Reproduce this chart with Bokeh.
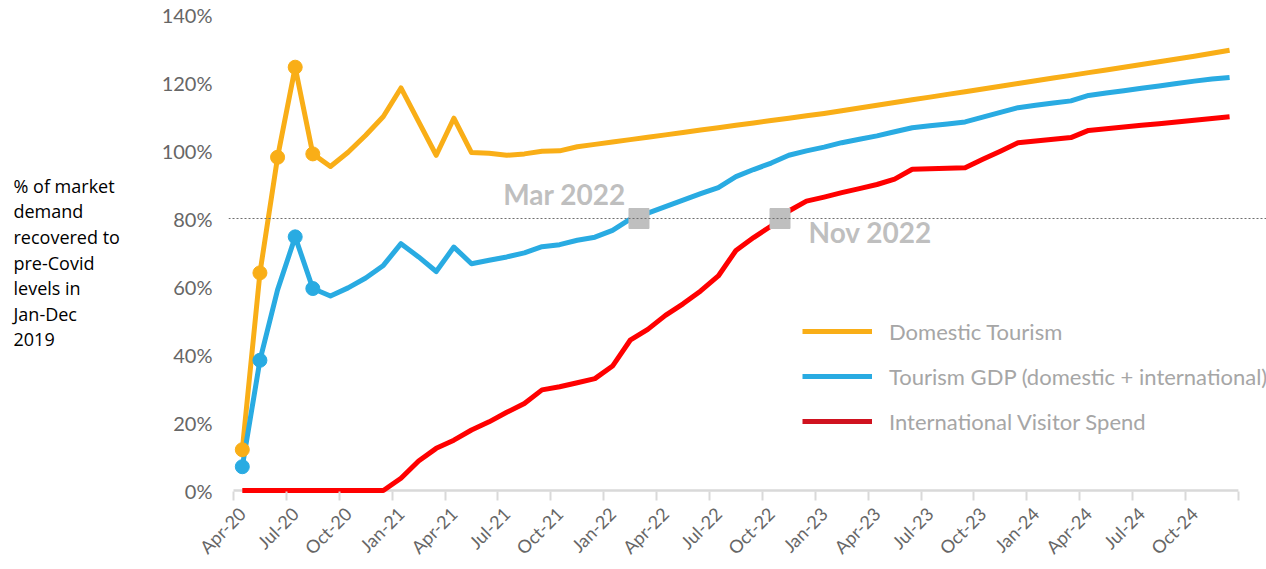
import math
from bokeh.plotting import figure
from bokeh.layouts import row
from bokeh.models import (Range1d, FixedTicker, NumeralTickFormatter, Span, Label,
                          Legend, LegendItem)
from bokeh.core.properties import value
from bokeh.embed import file_html
from bokeh.resources import INLINE

# ---------------- data ----------------
tick_labels = ["Apr-20", "Jul-20", "Oct-20", "Jan-21", "Apr-21", "Jul-21", "Oct-21",
               "Jan-22", "Apr-22", "Jul-22", "Oct-22", "Jan-23", "Apr-23", "Jul-23",
               "Oct-23", "Jan-24", "Apr-24", "Jul-24", "Oct-24"]
n_months = 57  # Apr-20 .. Dec-24

domestic = [0.12, 0.64, 0.98, 1.245, 0.99, 0.953, 0.995, 1.045, 1.10, 1.184,
            1.085, 0.986, 1.095, 0.994, 0.992, 0.986, 0.99, 0.998, 0.999, 1.011,
            1.018, 1.025, 1.032, 1.039, 1.046, 1.053, 1.060, 1.067, 1.074, 1.081,
            1.088, 1.095, 1.102, 1.109, 1.117, 1.125, 1.133, 1.141, 1.149, 1.157,
            1.165, 1.173, 1.181, 1.189, 1.197, 1.205, 1.213, 1.221, 1.229, 1.237,
            1.245, 1.253, 1.261, 1.269, 1.277, 1.286, 1.295]

gdp = [0.07, 0.383, 0.59, 0.746, 0.594, 0.572, 0.596, 0.625, 0.662, 0.726,
       0.687, 0.644, 0.716, 0.667, 0.677, 0.687, 0.699, 0.717, 0.723, 0.736,
       0.745, 0.765, 0.798, 0.816, 0.835, 0.854, 0.873, 0.891, 0.923, 0.944,
       0.963, 0.986, 0.999, 1.01, 1.023, 1.033, 1.043, 1.055, 1.067, 1.073,
       1.078, 1.084, 1.098, 1.112, 1.126, 1.133, 1.140, 1.146, 1.162, 1.169,
       1.176, 1.183, 1.190, 1.197, 1.204, 1.210, 1.215]

international = [0, 0, 0, 0, 0, 0, 0, 0, 0, 0.036,
                 0.087, 0.124, 0.148, 0.178, 0.202, 0.23, 0.256, 0.296, 0.305, 0.317,
                 0.329, 0.366, 0.442, 0.474, 0.515, 0.549, 0.587, 0.631, 0.706, 0.744,
                 0.778, 0.822, 0.851, 0.863, 0.876, 0.888, 0.900, 0.916, 0.945, 0.946,
                 0.948, 0.949, 0.974, 0.998, 1.023, 1.028, 1.033, 1.038, 1.059, 1.064,
                 1.069, 1.074, 1.079, 1.084, 1.089, 1.094, 1.099]

domestic_marker_idx = [0, 1, 2, 3, 4]
gdp_marker_idx = [0, 1, 3, 4]

milestone_x = [22.5, 30.5]          # Mar 2022 (GDP) and Nov 2022 (international) crossings
milestone_y = [0.8, 0.8]
milestone_text = ["Mar 2022", "Nov 2022"]
threshold = 0.8

series_names = ["Domestic Tourism", "Tourism GDP (domestic + international)",
                "International Visitor Spend"]
y_title_lines = ["% of market", "demand", "recovered to", "pre-Covid",
                 "levels in", "Jan-Dec", "2019"]

# ---------------- style ----------------
ORANGE = "#F9AE17"
BLUE = "#29ABE2"
RED = "#FF0000"
RED_LEG = "#D0121F"
FONT = "Lato"
TOP, BOTTOM = 14, 76          # borders (px) shared by both panels
H = 569

x = list(range(n_months))

# ---- left panel holding the horizontal y-axis title (data units = screen px) ----
t = figure(width=150, height=H, output_backend="svg", toolbar_location=None,
           x_range=Range1d(0, 150), y_range=Range1d(H - BOTTOM, TOP),
           min_border_left=0, min_border_right=0,
           min_border_top=TOP, min_border_bottom=BOTTOM)
t.axis.visible = False
t.grid.visible = False
t.outline_line_color = None
line_pitch = 25.7
t.text(x=[13] * len(y_title_lines),
       y=[185 + k * line_pitch for k in range(len(y_title_lines))],
       text=y_title_lines, text_baseline="middle", text_align="left",
       text_font=value("Open Sans"), text_font_size=value("18px"), text_color="black")

# ---- main chart ----
p = figure(width=1116, height=H, output_backend="svg", toolbar_location=None,
           x_range=Range1d(-0.783, 58.094), y_range=Range1d(-0.0088, 1.4),
           min_border_left=78, min_border_right=0,
           min_border_top=TOP, min_border_bottom=BOTTOM)
p.outline_line_color = None
p.xgrid.grid_line_color = None
p.ygrid.grid_line_color = None
p.background_fill_color = "white"

# threshold dotted line
p.add_layout(Span(location=threshold, dimension="width", line_color="#6f6f6f",
                  line_width=1, line_dash="2 2"))

# axis baseline (category extent)
p.line(x=[-0.5, n_months - 0.5], y=[0, 0], line_color="#d9d9d9", line_width=2.5)

p.line(x=x, y=domestic, line_color=ORANGE, line_width=5, line_join="round")
p.line(x=x, y=gdp, line_color=BLUE, line_width=5, line_join="round")
p.line(x=x, y=international, line_color=RED, line_width=5, line_join="round")

p.scatter(x=[x[i] for i in domestic_marker_idx], y=[domestic[i] for i in domestic_marker_idx],
          marker="circle", size=14, fill_color=ORANGE, line_color=ORANGE)
p.scatter(x=[x[i] for i in gdp_marker_idx], y=[gdp[i] for i in gdp_marker_idx],
          marker="circle", size=14, fill_color=BLUE, line_color=BLUE)

p.scatter(x=milestone_x, y=milestone_y, marker="square", size=20,
          fill_color="#BFBFBF", line_color="#BFBFBF")

# milestone labels
p.add_layout(Label(x=14.8, y=0.872, text=milestone_text[0], text_font=FONT,
                   text_font_style="bold", text_font_size="28px", text_color="#BFBFBF",
                   text_baseline="alphabetic", text_align="left"))
p.add_layout(Label(x=32.12, y=0.761, text=milestone_text[1], text_font=FONT,
                   text_font_style="bold", text_font_size="28px", text_color="#BFBFBF",
                   text_baseline="alphabetic", text_align="left"))

# legend (off-range glyphs so the legend red can differ from the line red)
l1 = p.line(x=[-50, -49], y=[-5, -5], line_color=ORANGE, line_width=5)
l2 = p.line(x=[-50, -49], y=[-5, -5], line_color=BLUE, line_width=5)
l3 = p.line(x=[-50, -49], y=[-5, -5], line_color=RED_LEG, line_width=5)
legend = Legend(items=[LegendItem(label=series_names[0], renderers=[l1]),
                       LegendItem(label=series_names[1], renderers=[l2]),
                       LegendItem(label=series_names[2], renderers=[l3])],
                location=(574, 58), orientation="vertical",
                glyph_width=70, glyph_height=28, label_height=28, spacing=17,
                label_standoff=17, padding=0, margin=0,
                border_line_color=None, background_fill_alpha=0,
                label_text_font=FONT, label_text_font_size="22px",
                label_text_color="#A6A6A6")
p.add_layout(legend, "center")

# x axis
xa = p.xaxis[0]
xa.ticker = FixedTicker(ticks=[3 * k for k in range(len(tick_labels))],
                        minor_ticks=[k - 0.5 for k in range(0, n_months + 1, 3)])
xa.major_label_overrides = {3 * k: lab for k, lab in enumerate(tick_labels)}
xa.major_label_orientation = math.pi / 4
xa.major_tick_line_color = None
xa.major_tick_out = 0
xa.major_tick_in = 0
xa.minor_tick_line_color = "#d9d9d9"
xa.minor_tick_line_width = 2
xa.minor_tick_out = 7
xa.minor_tick_in = 2
xa.axis_line_color = None
xa.major_label_standoff = 10
xa.major_label_text_font = FONT
xa.major_label_text_font_size = "18px"
xa.major_label_text_color = "#666666"

# y axis
ya = p.yaxis[0]
ya.ticker = FixedTicker(ticks=[0, 0.2, 0.4, 0.6, 0.8, 1.0, 1.2, 1.4])
ya.formatter = NumeralTickFormatter(format="0%")
ya.axis_line_color = None
ya.major_tick_line_color = None
ya.major_tick_out = 0
ya.major_tick_in = 0
ya.minor_tick_line_color = None
ya.major_label_standoff = 16
ya.major_label_text_font = FONT
ya.major_label_text_font_size = "20px"
ya.major_label_text_color = "#666666"

layout = row(t, p)
open("out.html", "w").write(file_html(layout, INLINE))
